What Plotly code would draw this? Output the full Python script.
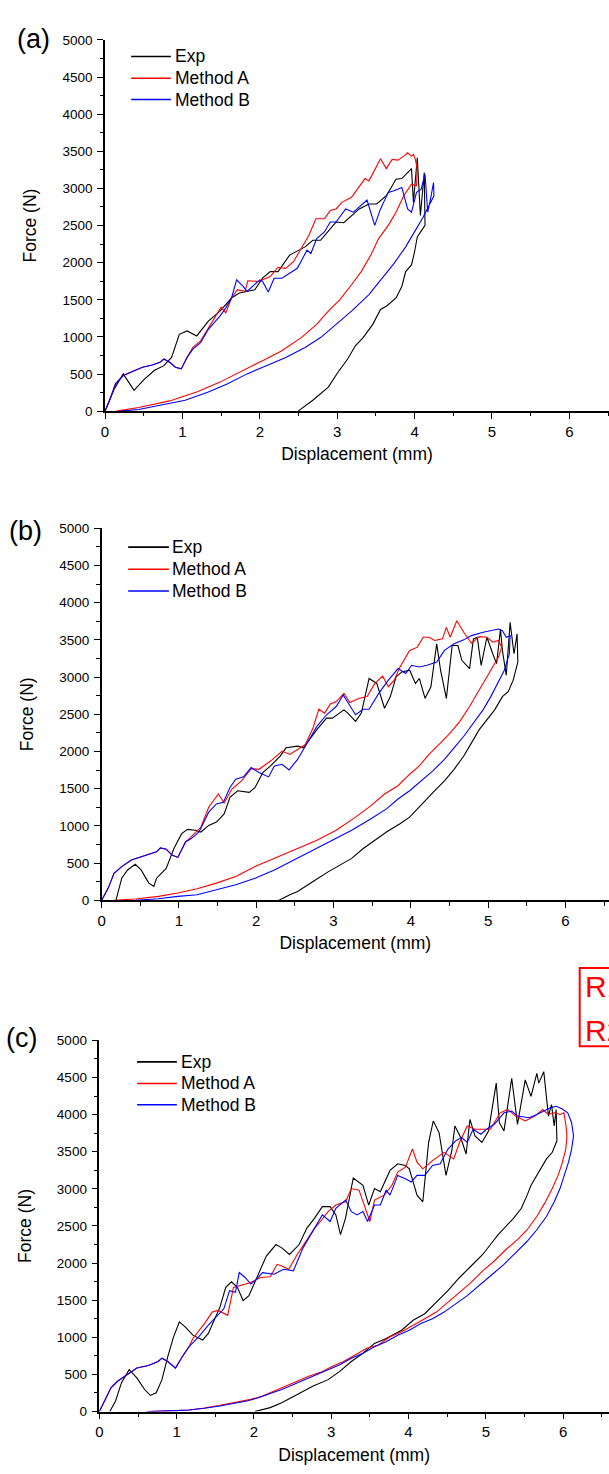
import plotly.graph_objects as go

# ---------------- DATA ----------------
# Panel (a)
a_exp_x = [0, 0.12, 0.235, 0.375, 0.5, 0.635, 0.76, 0.86, 0.96, 1.06, 1.185, 1.335, 1.485, 1.635, 1.735, 1.935, 2.035, 2.135,
           2.235, 2.385, 2.585, 2.685, 2.785, 2.985, 3.085, 3.285, 3.41, 3.51, 3.635, 3.76, 3.835, 3.96, 3.985, 4.035, 4.075,
           4.125, 4.135, 4.035, 4.0, 3.96, 3.885, 3.835, 3.76, 3.635, 3.56, 3.46, 3.335, 3.235, 3.135, 3.01, 2.885, 2.685, 2.495]
a_exp_y = [0, 300, 502, 280, 420, 547, 613, 724, 1035, 1080, 1013, 1213, 1347, 1524, 1591, 1636, 1791, 1880,
           1880, 2102, 2213, 2302, 2302, 2547, 2538, 2724, 2791, 2791, 2902, 3124, 3133, 3267, 2813, 3413, 2635,
           3213, 2502, 2346, 2147, 1969, 1880, 1680, 1524, 1413, 1369, 1169, 991, 880, 702, 524, 324, 147, 0]

a_mA_x = [0, 0.06, 0.135, 0.235, 0.385, 0.485, 0.61, 0.71, 0.76, 0.835, 0.91, 0.985, 1.06, 1.135, 1.235, 1.385, 1.5, 1.56,
          1.635, 1.71, 1.81, 1.845, 1.985, 2.135, 2.235, 2.335, 2.435, 2.535, 2.635, 2.725, 2.835, 2.91, 2.985, 3.06, 3.185,
          3.36, 3.41, 3.56, 3.635, 3.71, 3.785, 3.86, 3.91, 3.96, 3.985, 4.01, 4.035, 4.025, 3.96, 3.86, 3.76, 3.66, 3.535,
          3.435, 3.31, 3.185, 3.035, 2.885, 2.735, 2.535, 2.285, 2.035, 1.785, 1.485, 1.185, 0.835, 0.435, 0.145]
a_mA_y = [0, 147, 369, 480, 547, 591, 622, 658, 702, 658, 591, 569, 724, 858, 947, 1213, 1400, 1324,
          1524, 1636, 1613, 1756, 1747, 1813, 1938, 1924, 2013, 2191, 2369, 2591, 2591, 2702, 2724, 2813, 2880,
          3133, 3102, 3400, 3267, 3391, 3382, 3435, 3480, 3435, 3458, 3391, 3258, 3035, 3058, 2902, 2680, 2502, 2324,
          2102, 1880, 1702, 1502, 1347, 1169, 991, 813, 680, 547, 391, 258, 138, 49, 0]

a_mB_x = [0, 0.06, 0.135, 0.235, 0.385, 0.485, 0.61, 0.71, 0.76, 0.835, 0.91, 0.985, 1.06, 1.135, 1.235, 1.335, 1.485, 1.56,
          1.635, 1.7, 1.785, 1.835, 2.0, 2.035, 2.11, 2.185, 2.285, 2.485, 2.61, 2.66, 2.735, 2.835, 2.91, 2.985, 3.11,
          3.21, 3.385, 3.485, 3.56, 3.66, 3.735, 3.835, 3.91, 3.96, 4.025, 4.085, 4.135, 4.17, 4.21, 4.245, 4.25, 4.11,
          4.01, 3.885, 3.735, 3.585, 3.41, 3.185, 2.985, 2.785, 2.585, 2.335, 2.085, 1.835, 1.585, 1.335, 1.035, 0.735,
          0.435, 0.2]
a_mB_y = [0, 147, 369, 480, 547, 591, 622, 658, 702, 658, 591, 569, 724, 836, 924, 1102, 1280, 1391,
          1524, 1769, 1680, 1613, 1769, 1747, 1604, 1791, 1791, 1924, 2169, 2124, 2324, 2413, 2547, 2547, 2724,
          2680, 2844, 2502, 2724, 2947, 2969, 3013, 2724, 2680, 2947, 2991, 3191, 2680, 2880, 3080, 2900, 2613,
          2435, 2213, 1991, 1791, 1569, 1347, 1169, 991, 858, 724, 613, 502, 369, 258, 147, 80,
          22, 0]

# Panel (b)
b_exp_x = [0.185, 0.26, 0.335, 0.435, 0.51, 0.61, 0.675, 0.71, 0.835, 0.935, 1.035, 1.11, 1.21, 1.285, 1.385, 1.485, 1.585,
           1.66, 1.76, 1.91, 1.985, 2.085, 2.185, 2.31, 2.385, 2.535, 2.61, 2.685, 2.785, 2.91, 2.985, 3.135, 3.185, 3.285,
           3.36, 3.46, 3.56, 3.66, 3.735, 3.81, 3.885, 3.985, 4.06, 4.11, 4.185, 4.26, 4.335, 4.385, 4.46, 4.535, 4.61,
           4.66, 4.76, 4.81, 4.86, 4.91, 4.985, 5.06, 5.11, 5.16, 5.185, 5.235, 5.285, 5.335, 5.375, 5.385, 5.325, 5.26,
           5.185, 5.085, 4.985, 4.885, 4.785, 4.685, 4.56, 4.435, 4.31, 4.21, 4.085, 3.985, 3.86, 3.685, 3.535, 3.385,
           3.235, 3.085, 2.935, 2.735, 2.535, 2.435, 2.295]
b_exp_y = [0, 297, 408, 484, 408, 231, 186, 297, 430, 697, 896, 954, 941, 918, 1007, 1052, 1162,
           1384, 1473, 1451, 1517, 1717, 1806, 1939, 2050, 2072, 2050, 2161, 2294, 2449, 2449, 2560, 2516, 2405,
           2516, 2982, 2915, 2582, 2738, 3004, 3070, 3093, 2915, 2982, 2715, 2871, 3448, 3093, 2715, 3425, 3425,
           3226, 3115, 3514, 3536, 3159, 3536, 3314, 3181, 3647, 3359, 3026, 3736, 3314, 3581, 3204, 2960, 2804,
           2738, 2560, 2427, 2294, 2116, 1939, 1761, 1606, 1473, 1362, 1229, 1118, 1029, 918, 808, 697,
           564, 475, 386, 253, 120, 75, 0]

b_mA_x = [0, 0.085, 0.16, 0.26, 0.385, 0.51, 0.635, 0.71, 0.76, 0.835, 0.91, 0.985, 1.085, 1.135, 1.285, 1.385, 1.51, 1.585,
          1.685, 1.81, 1.935, 2.035, 2.185, 2.335, 2.435, 2.535, 2.635, 2.735, 2.81, 2.885, 2.96, 3.035, 3.135, 3.21,
          3.335, 3.435, 3.535, 3.635, 3.71, 3.785, 3.86, 3.985, 4.085, 4.16, 4.235, 4.31, 4.41, 4.46, 4.51, 4.595, 4.685,
          4.785, 4.885, 4.985, 5.06, 5.135, 5.175, 5.135, 5.06, 4.96, 4.86, 4.76, 4.635, 4.51, 4.385, 4.235, 4.11,
          3.985, 3.835, 3.66, 3.485, 3.285, 3.035, 2.785, 2.535, 2.235, 1.985, 1.735, 1.485, 1.235, 0.985, 0.735,
          0.435, 0.16]
b_mA_y = [0, 164, 364, 453, 541, 586, 621, 652, 705, 688, 608, 577, 785, 830, 985, 1251, 1429, 1309,
          1495, 1606, 1770, 1761, 1872, 2006, 1961, 2028, 2094, 2316, 2569, 2516, 2640, 2671, 2782, 2658,
          2715, 2738, 2915, 3013, 2871, 2960, 3137, 3359, 3403, 3536, 3536, 3492, 3514, 3669, 3536, 3758, 3603,
          3456, 3545, 3536, 3470, 3492, 3403, 3270, 3137, 2960, 2782, 2605, 2405, 2250, 2116, 1961, 1806,
          1695, 1540, 1429, 1273, 1118, 941, 808, 697, 564, 453, 320, 231, 155, 98, 53,
          18, 0]

b_mB_x = [0, 0.085, 0.16, 0.26, 0.385, 0.51, 0.635, 0.71, 0.76, 0.835, 0.91, 0.985, 1.085, 1.16, 1.26, 1.385, 1.485, 1.575,
          1.66, 1.735, 1.835, 1.935, 2.035, 2.16, 2.235, 2.335, 2.425, 2.535, 2.635, 2.785, 2.91, 3.035, 3.125, 3.21,
          3.285, 3.385, 3.46, 3.585, 3.71, 3.835, 3.935, 4.01, 4.11, 4.21, 4.335, 4.435, 4.56, 4.685, 4.785, 4.935,
          5.035, 5.135, 5.185, 5.235, 5.285, 5.275, 5.21, 5.135, 5.035, 4.935, 4.81, 4.685, 4.56, 4.435, 4.285, 4.135,
          3.985, 3.835, 3.685, 3.485, 3.235, 2.985, 2.735, 2.485, 2.235, 1.985, 1.735, 1.485, 1.235, 0.985, 0.735,
          0.435]
b_mB_y = [0, 164, 364, 453, 541, 586, 621, 652, 705, 688, 608, 577, 785, 830, 918, 1185, 1296, 1318,
          1517, 1628, 1659, 1784, 1717, 1659, 1806, 1828, 1753, 1894, 2072, 2338, 2494, 2605, 2760, 2627,
          2494, 2569, 2569, 2782, 2960, 3115, 3048, 3159, 3137, 3159, 3204, 3359, 3448, 3501, 3558, 3603,
          3625, 3647, 3625, 3536, 3558, 3314, 3093, 2937, 2738, 2560, 2383, 2205, 2050, 1895, 1739, 1606,
          1473, 1362, 1229, 1096, 941, 808, 674, 541, 408, 297, 209, 142, 75, 53, 22,
          0]

# Panel (c)
c_exp_x = [0.135, 0.21, 0.285, 0.385, 0.485, 0.585, 0.66, 0.735, 0.81, 0.885, 0.96, 1.035, 1.11, 1.21, 1.335, 1.41, 1.485,
           1.56, 1.635, 1.71, 1.785, 1.86, 1.935, 2.01, 2.085, 2.16, 2.285, 2.36, 2.46, 2.585, 2.685, 2.785, 2.885, 2.985,
           3.06, 3.12, 3.185, 3.285, 3.41, 3.485, 3.56, 3.635, 3.76, 3.86, 3.96, 4.01, 4.11, 4.185, 4.26, 4.32, 4.395,
           4.485, 4.56, 4.6, 4.675, 4.745, 4.795, 4.86, 4.95, 5.035, 5.135, 5.175, 5.235, 5.335, 5.41, 5.51, 5.585, 5.66,
           5.685, 5.75, 5.81, 5.85, 5.885, 5.91, 5.92, 5.86, 5.785, 5.71, 5.65, 5.585, 5.535, 5.46, 5.36, 5.26, 5.16,
           5.06, 4.96, 4.81, 4.66, 4.51, 4.36, 4.21, 4.06, 3.91, 3.71, 3.56, 3.41, 3.26, 3.11, 2.96, 2.76, 2.56, 2.36,
           2.21, 2.01]
c_exp_y = [0, 142, 386, 564, 453, 297, 217, 253, 430, 741, 1007, 1207, 1140, 1029, 963, 1052, 1229,
           1407, 1673, 1748, 1673, 1495, 1562, 1739, 1939, 2094, 2250, 2205, 2116, 2250, 2471, 2605, 2760, 2760,
           2649, 2383, 2605, 3146, 3048, 2782, 3004, 2960, 3248, 3337, 3314, 3270, 2915, 2826, 3625, 3914, 3758,
           3181, 3514, 3847, 3692, 3470, 3936, 3714, 3625, 3780, 4424, 3891, 3780, 4490, 3869, 4468, 4246, 4557,
           4424, 4579, 3980, 4135, 3847, 4069, 3647, 3492, 3403, 3270, 3181, 3048, 2915, 2738, 2605, 2494, 2383,
           2250, 2116, 1961, 1806, 1628, 1473, 1318, 1229, 1096, 985, 918, 785, 674, 541, 430, 342, 231, 120,
           53, 0]

c_mA_x = [0, 0.07, 0.15, 0.235, 0.36, 0.485, 0.635, 0.76, 0.81, 0.885, 0.985, 1.06, 1.16, 1.21, 1.36, 1.46, 1.535, 1.66,
          1.735, 1.81, 1.96, 2.085, 2.21, 2.3, 2.36, 2.45, 2.56, 2.66, 2.785, 2.86, 2.96, 3.06, 3.185, 3.26, 3.36, 3.5,
          3.56, 3.685, 3.785, 3.86, 3.96, 4.05, 4.11, 4.185, 4.31, 4.46, 4.585, 4.66, 4.76, 4.86, 4.96, 5.06, 5.185,
          5.285, 5.385, 5.51, 5.635, 5.735, 5.81, 5.885, 5.96, 6.01, 6.035, 6.05, 6.035, 5.985, 5.935, 5.86, 5.76,
          5.66, 5.535, 5.41, 5.26, 5.11, 4.96, 4.81, 4.66, 4.51, 4.36, 4.21, 4.06, 3.91, 3.76, 3.61, 3.46, 3.31,
          3.16, 3.01, 2.86, 2.71, 2.56, 2.41, 2.26, 2.11, 1.96, 1.76, 1.56, 1.36, 1.16, 0.91, 0.66]
c_mA_y = [0, 142, 319, 408, 497, 586, 621, 674, 719, 674, 586, 719, 874, 985, 1185, 1340, 1362, 1296,
          1673, 1695, 1739, 1806, 1815, 1983, 1961, 1917, 2116, 2272, 2471, 2560, 2693, 2782, 2826, 3004, 2982, 2560,
          2849, 2915, 3048, 3226, 3292, 3536, 3359, 3270, 3381, 3492, 3403, 3625, 3847, 3803, 3803, 3803, 4024,
          4069, 3980, 3914, 3980, 4069, 4002, 4024, 4002, 4024, 3869, 3714, 3536, 3337, 3181, 3004, 2804,
          2627, 2449, 2316, 2183, 2028, 1895, 1739, 1606, 1473, 1340, 1251, 1163, 1074, 1007, 896, 852, 763,
          674, 608, 528, 475, 408, 342, 275, 209, 164, 120, 84, 49, 22, 9, 0]

c_mB_x = [0, 0.07, 0.15, 0.235, 0.36, 0.485, 0.635, 0.76, 0.81, 0.885, 0.985, 1.06, 1.16, 1.285, 1.41, 1.51, 1.61, 1.685,
          1.76, 1.81, 1.885, 1.96, 2.035, 2.11, 2.26, 2.385, 2.51, 2.635, 2.76, 2.885, 2.985, 3.06, 3.185, 3.26, 3.335,
          3.41, 3.47, 3.56, 3.635, 3.71, 3.76, 3.86, 3.96, 4.035, 4.11, 4.21, 4.31, 4.41, 4.51, 4.61, 4.685, 4.76,
          4.835, 4.935, 5.01, 5.11, 5.235, 5.335, 5.41, 5.56, 5.66, 5.76, 5.835, 5.91, 5.985, 6.06, 6.11, 6.135, 6.11,
          6.07, 6.01, 5.96, 5.885, 5.785, 5.66, 5.535, 5.385, 5.235, 5.085, 4.935, 4.76, 4.61, 4.46, 4.31, 4.16,
          4.01, 3.86, 3.71, 3.56, 3.41, 3.26, 3.11, 2.96, 2.81, 2.66, 2.51, 2.36, 2.21, 2.06, 1.91, 1.76, 1.56,
          1.36, 1.16, 0.91, 0.61]
c_mB_y = [0, 142, 319, 408, 497, 586, 621, 674, 719, 674, 586, 719, 874, 1007, 1163, 1273, 1384, 1628,
          1606, 1872, 1806, 1717, 1784, 1872, 1850, 1917, 1895, 2205, 2427, 2649, 2560, 2738, 2849, 2693, 2649,
          2693, 2560, 2782, 2782, 2982, 2915, 3181, 3137, 3093, 3181, 3181, 3314, 3337, 3536, 3647, 3692, 3625,
          3803, 3736, 3803, 3869, 4024, 4047, 3980, 3958, 4002, 4047, 4091, 4113, 4078, 4024, 3891, 3714, 3536,
          3359, 3181, 3004, 2826, 2627, 2449, 2294, 2139, 1983, 1850, 1717, 1562, 1451, 1340, 1251, 1185,
          1096, 1029, 941, 874, 785, 719, 630, 564, 497, 430, 364, 297, 244, 186, 142, 111, 75,
          44, 22, 9, 0]

series_names = ["Exp", "Method A", "Method B"]
series_colors = ["#000000", "#ff0000", "#0000ff"]
panel_labels = ["(a)", "(b)", "(c)"]
x_ticks = [0, 1, 2, 3, 4, 5, 6]
y_ticks = [0, 500, 1000, 1500, 2000, 2500, 3000, 3500, 4000, 4500, 5000]

panels = [
    [(a_exp_x, a_exp_y), (a_mA_x, a_mA_y), (a_mB_x, a_mB_y)],
    [(b_exp_x, b_exp_y), (b_mA_x, b_mA_y), (b_mB_x, b_mB_y)],
    [(c_exp_x, c_exp_y), (c_mA_x, c_mA_y), (c_mB_x, c_mB_y)],
]

# ---------------- LAYOUT (pixel geometry) ----------------
W, H = 609, 1474
FONT = "Arial, Liberation Sans, sans-serif"
# (axis x px, top px, bottom px, px per mm)
geo = [
    (101.7, 33.3, 408.3, 77.9),
    (98.3, 526.7, 902.5, 77.8),
    (96.0, 1044.0, 1419.0, 77.8),
]
legend_geo = [  # line x0, line x1, text x, row ys
    (128, 168, 170, [50, 72, 93.5]),
    (125, 166, 167, [545.7, 568, 590]),
    (134, 174, 176, [1065.7, 1087.5, 1109]),
]
label_geo = [(11, 32), (3, 529), (0, 1041.7)]


def px(x):
    return x / W


def py(y):
    return 1 - y / H


fig = go.Figure()
shapes = []
annotations = []
layout_axes = {}

for i, (series, (ax_x, top, bot, ppm)) in enumerate(zip(panels, geo)):
    n = "" if i == 0 else str(i + 1)
    xa, ya = "x" + n, "y" + n
    for (xs, ys), name, col in zip(series, series_names, series_colors):
        fig.add_trace(go.Scatter(x=xs, y=ys, mode="lines", name=name,
                                 line=dict(color=col, width=1.1),
                                 xaxis=xa, yaxis=ya, showlegend=False))
    xmax = (W - ax_x) / ppm
    common = dict(showline=True, linecolor="black", linewidth=1.5, showgrid=False, zeroline=False,
                  ticks="outside", tickcolor="black", tickwidth=1.3, ticklen=6)
    layout_axes["xaxis" + n] = dict(
        domain=[px(ax_x), 1.0], range=[0, xmax], anchor=ya, tickvals=x_ticks,
        minor=dict(ticks="outside", ticklen=3.5, tickwidth=1.2, tickcolor="black", dtick=0.5, tick0=0,
                   showgrid=False),
        tickfont=dict(family=FONT, size=15, color="black"),
        title=dict(text="Displacement (mm)", font=dict(family=FONT, size=17.5, color="black"), standoff=9),
        **common)
    layout_axes["yaxis" + n] = dict(
        domain=[py(bot), py(top)], range=[0, 5000], anchor=xa, tickvals=y_ticks,
        minor=dict(ticks="outside", ticklen=3.5, tickwidth=1.2, tickcolor="black", dtick=250, tick0=0,
                   showgrid=False),
        tickfont=dict(family=FONT, size=13.5, color="black"), ticklabelstandoff=2,
        title=dict(text="Force (N)", font=dict(family=FONT, size=17.5, color="black"), standoff=21),
        **common)

    # legend (drawn manually)
    lx0, lx1, tx, rows = legend_geo[i]
    for name, col, ry in zip(series_names, series_colors, rows):
        shapes.append(dict(type="line", xref="paper", yref="paper", x0=px(lx0), x1=px(lx1),
                           y0=py(ry), y1=py(ry), line=dict(color=col, width=1.6)))
        annotations.append(dict(text=name, xref="paper", yref="paper", x=px(tx), y=py(ry),
                                xanchor="left", yanchor="middle", showarrow=False,
                                font=dict(family=FONT, size=17.5, color="black")))
    lx, ly = label_geo[i]
    annotations.append(dict(text=panel_labels[i], xref="paper", yref="paper", x=px(lx), y=py(ly),
                            xanchor="left", yanchor="middle", showarrow=False,
                            font=dict(family=FONT, size=27, color="black")))

# red boxed text at right edge (partially cut off, as in the reference)
shapes.append(dict(type="rect", xref="paper", yref="paper", x0=px(579.5), x1=px(660),
                   y0=py(1050), y1=py(971), line=dict(color="#ff0000", width=2)))
annotations.append(dict(text="R1", xref="paper", yref="paper", x=px(583), y=py(990),
                        xanchor="left", yanchor="middle", showarrow=False,
                        font=dict(family=FONT, size=30, color="#ff0000")))
annotations.append(dict(text="R2", xref="paper", yref="paper", x=px(583), y=py(1034),
                        xanchor="left", yanchor="middle", showarrow=False,
                        font=dict(family=FONT, size=30, color="#ff0000")))

fig.update_layout(
    width=W, height=H, margin=dict(l=0, r=0, t=0, b=0),
    paper_bgcolor="white", plot_bgcolor="white",
    showlegend=False, shapes=shapes, annotations=annotations,
    **layout_axes,
)

fig.write_html("out.html")
